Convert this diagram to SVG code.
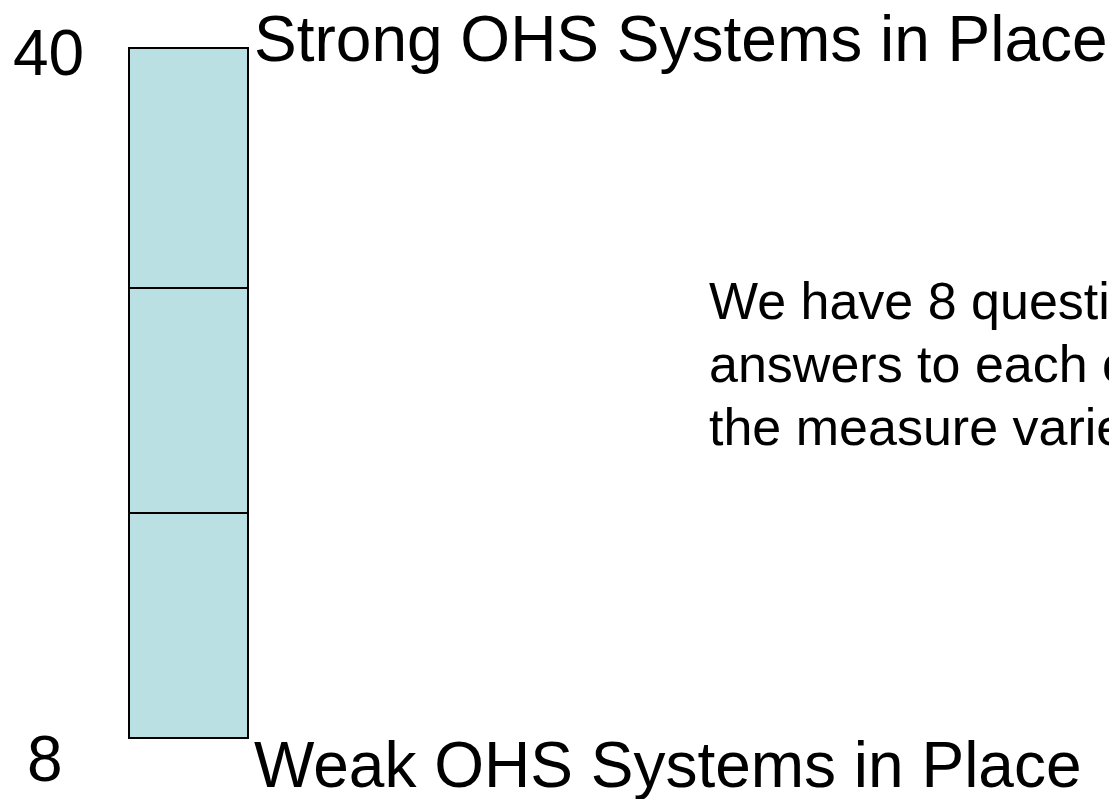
<svg xmlns="http://www.w3.org/2000/svg" width="1109" height="799" viewBox="0 0 1109 799">
  <style>
    text { font-family: "Liberation Sans", Arial, sans-serif; fill: #000; }
    .big { font-size: 64px; }
    .note { font-size: 52px; }
    .seg { fill: #BBE0E3; stroke: #000; stroke-width: 2; }
  </style>
  <rect width="1109" height="799" fill="#fff"/>

  <!-- stacked scale bar, three bands -->
  <g id="scale-bar">
    <rect class="seg" x="129" y="48" width="119" height="240"/>
    <rect class="seg" x="129" y="288" width="119" height="225"/>
    <rect class="seg" x="129" y="513" width="119" height="225"/>
  </g>

  <g id="scale-top">
    <text class="big" x="13" y="75">40</text>
    <text class="big" x="254" y="61">Strong OHS Systems in Place</text>
  </g>

  <g id="scale-bottom">
    <text class="big" x="27" y="781">8</text>
    <text class="big" x="254" y="787">Weak OHS Systems in Place</text>
  </g>

  <g id="note">
    <text class="note" x="709" y="319">We have 8 questi</text>
    <text class="note" x="709" y="382">answers to each c</text>
    <text class="note" x="709" y="445">the measure varie</text>
  </g>
</svg>
